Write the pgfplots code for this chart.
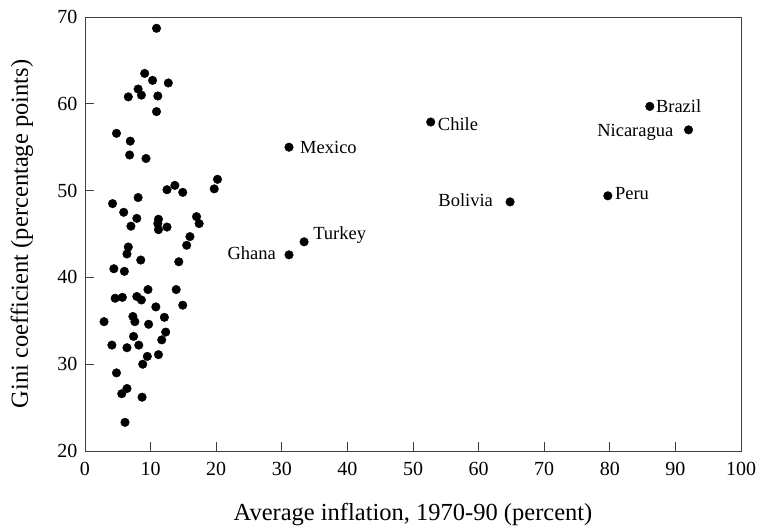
\documentclass[border=0pt]{standalone}
\usepackage{fontspec}
\setmainfont{Liberation Serif}
\usepackage{pgfplots}
\pgfplotsset{compat=1.18}
\begin{document}
\begin{tikzpicture}
\pgfplotstableread{
x y
10.9 68.7
9.1 63.5
10.3 62.7
12.7 62.4
8.1 61.7
8.6 61.0
6.6 60.8
11.1 60.9
10.9 59.1
4.8 56.6
6.9 55.7
6.8 54.1
9.3 53.7
20.2 51.3
19.7 50.2
13.7 50.6
12.5 50.1
14.9 49.8
8.1 49.2
4.2 48.5
5.9 47.5
7.9 46.8
11.2 46.7
7.0 45.9
11.1 46.2
12.5 45.8
17.0 47.0
17.4 46.2
11.2 45.5
16.0 44.7
15.5 43.7
6.6 43.5
6.4 42.7
8.5 42.0
14.3 41.8
4.4 41.0
6.0 40.7
13.9 38.6
9.6 38.6
4.6 37.6
5.7 37.7
7.9 37.8
8.6 37.4
14.9 36.8
10.8 36.6
2.9 34.9
7.3 35.5
7.6 34.9
12.1 35.4
9.7 34.6
12.3 33.7
7.4 33.2
11.7 32.8
4.1 32.2
6.4 31.9
8.2 32.2
9.5 30.9
8.8 30.0
11.2 31.1
4.8 29.0
6.4 27.2
5.6 26.6
8.7 26.2
6.1 23.3
31.1 55.0
31.1 42.6
33.4 44.1
52.7 57.9
64.8 48.7
86.1 59.7
92.0 57.0
79.7 49.4
}\datatable
\begin{axis}[
  scale only axis,
  width=656bp, height=434bp,
  xmin=0, xmax=100, ymin=20, ymax=70,
  xtick={0,10,...,100}, ytick={20,30,...,70},
  tick align=inside, xtick pos=left, ytick pos=left,
  major tick length=9bp,
  axis line style={draw=black!75, line width=0.9bp},
  every tick/.style={black!75, line width=0.9bp},
  /pgf/number format/assume math mode=true,
  ticklabel style={font=\fontsize{20bp}{22bp}\selectfont},
  xticklabel style={yshift=-8bp},
  yticklabel style={xshift=-4bp},
  xlabel={Average inflation, 1970-90 (percent)},
  ylabel={Gini coefficient (percentage points)},
  label style={font=\fontsize{24.5bp}{26bp}\selectfont},
  xlabel style={at={(rel axis cs:0.5,0)}, anchor=center, yshift=-64bp},
  ylabel style={at={(rel axis cs:0,0.5)}, anchor=center, yshift=63bp},
  clip=false,
]
\addplot[only marks, mark=*, mark size=4.3bp, black] table[x=x,y=y] {\datatable};
\coordinate (sw) at (rel axis cs:0,0);
\coordinate (ne) at (rel axis cs:1,1);
\begin{scope}[every node/.style={inner sep=0pt, font=\fontsize{18.5bp}{20bp}\selectfont}]
\node[anchor=west] at (axis cs:31.1,55.0) [xshift=11bp] {Mexico};
\node[anchor=east] at (axis cs:31.1,42.6) [xshift=-13bp, yshift=2bp] {Ghana};
\node[anchor=west] at (axis cs:33.4,44.1) [xshift=9bp, yshift=7bp] {Turkey};
\node[anchor=west] at (axis cs:52.7,57.9) [xshift=7bp, yshift=-2bp] {Chile};
\node[anchor=east] at (axis cs:64.8,48.7) [xshift=-17bp, yshift=2bp] {Bolivia};
\node[anchor=west] at (axis cs:86.1,59.7) [xshift=6bp] {Brazil};
\node[anchor=east] at (axis cs:92.0,57.0) [xshift=-15bp, yshift=-3bp] {Nicaragua};
\node[anchor=west] at (axis cs:79.7,49.4) [xshift=7bp, yshift=2bp] {Peru};
\end{scope}
\end{axis}
\pgfresetboundingbox
\path ([shift={(-85bp,-80bp)}]sw) rectangle ([shift={(19bp,17bp)}]ne);
\end{tikzpicture}
\end{document}
